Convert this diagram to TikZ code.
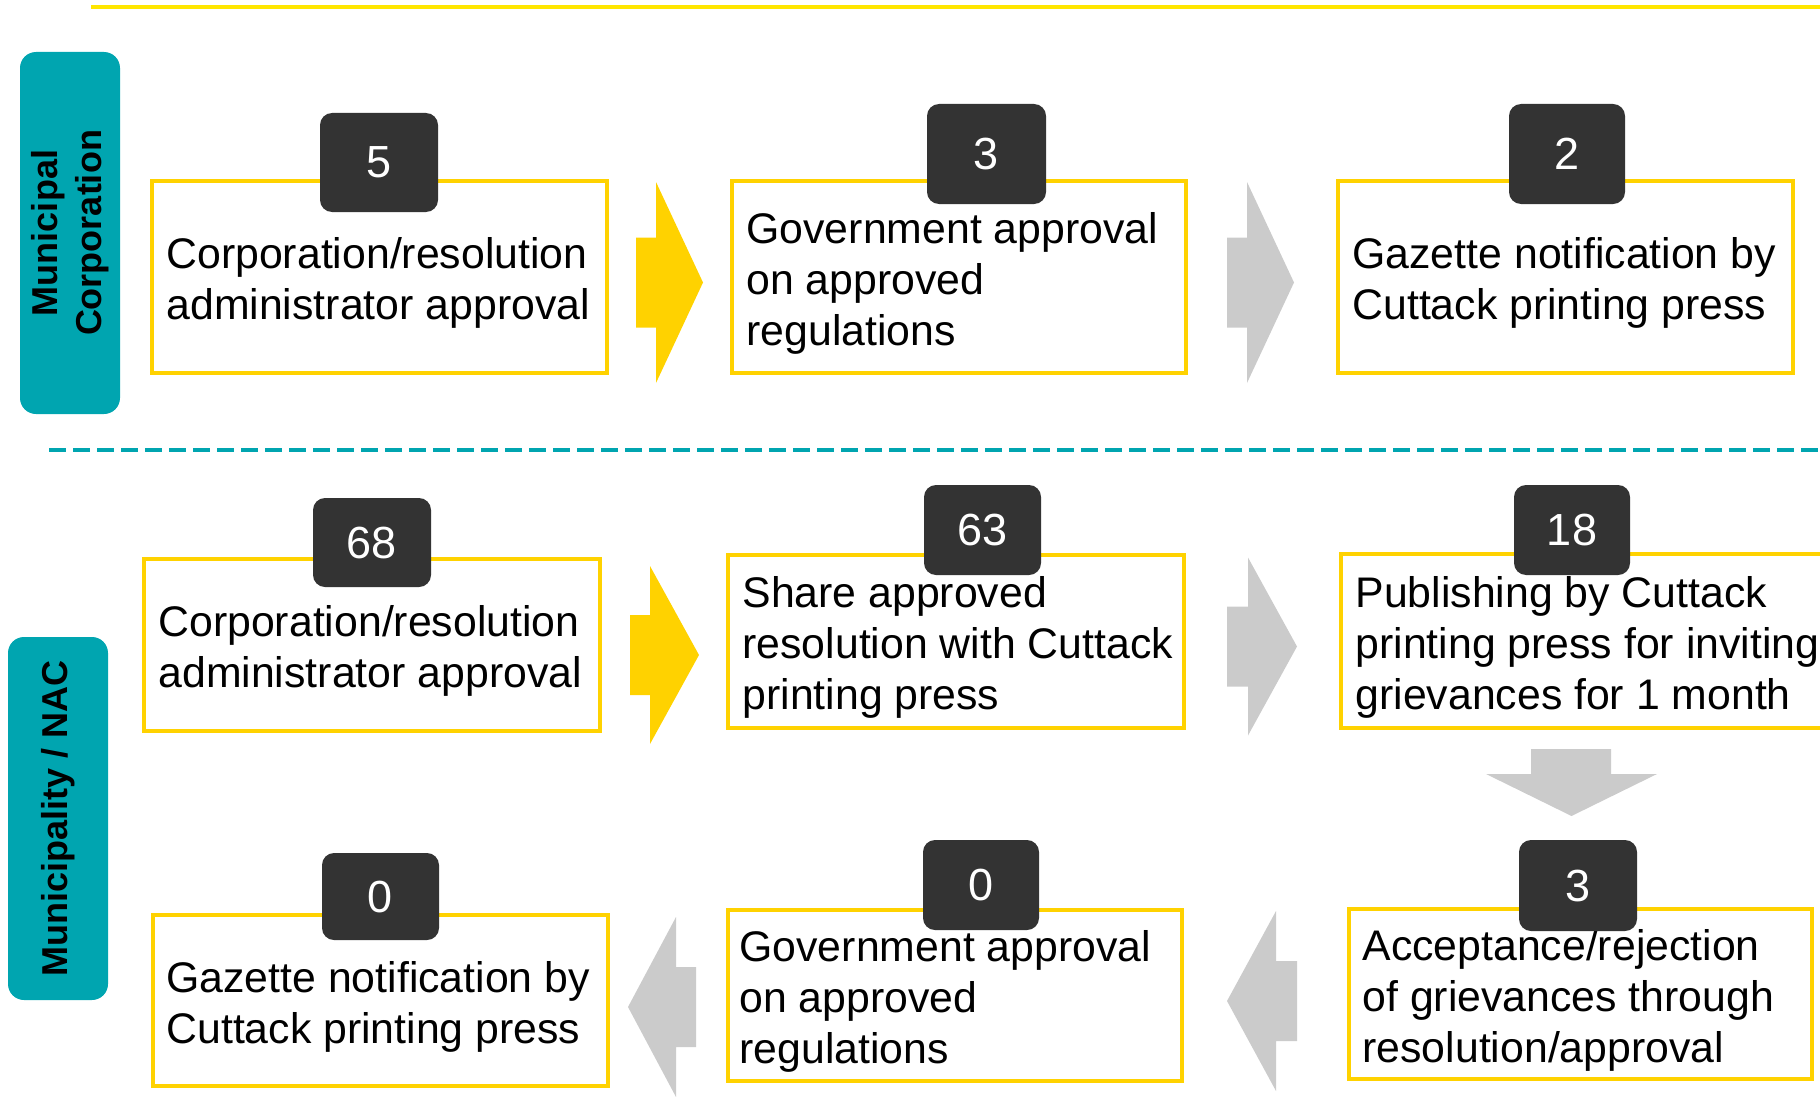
\documentclass[tikz,border=0pt]{standalone}
\usepackage{fontspec}
\setmainfont{Liberation Sans}
\definecolor{boxyellow}{HTML}{FFD200}
\definecolor{lineyellow}{HTML}{FFE600}
\definecolor{arrowyellow}{HTML}{FFD200}
\definecolor{arrowgray}{HTML}{CBCBCB}
\definecolor{badgegray}{HTML}{333333}
\definecolor{tealband}{HTML}{00A5B0}
\newcommand{\blockR}[7]{\fill[#7,shift={(#1,#2)}] (-#3/2,-#5/2) -- (#3/2-#4,-#5/2) -- (#3/2-#4,-#6/2) -- (#3/2,0) -- (#3/2-#4,#6/2) -- (#3/2-#4,#5/2) -- (-#3/2,#5/2) -- cycle;}
\newcommand{\blockL}[7]{\fill[#7,shift={(#1,#2)},xscale=-1] (-#3/2,-#5/2) -- (#3/2-#4,-#5/2) -- (#3/2-#4,-#6/2) -- (#3/2,0) -- (#3/2-#4,#6/2) -- (#3/2-#4,#5/2) -- (-#3/2,#5/2) -- cycle;}
\begin{document}
\begin{tikzpicture}[x=1pt,y=-1pt,
  stepbox/.style={draw=boxyellow, line width=3.5pt, fill=white, inner sep=0pt},
  steptext/.style={anchor=west, inner sep=0pt, align=left, font=\fontsize{42.8pt}{51pt}\selectfont},
  badge/.style={fill=badgegray, rounded corners=12pt, text=white, inner sep=0pt,
    font=\fontsize{45pt}{50pt}\selectfont},
  band/.style={fill=tealband, rounded corners=16pt, inner sep=0pt, rotate=90, align=center,
    font=\fontsize{36pt}{44pt}\selectfont\bfseries},
  topline/.style={draw=lineyellow, line width=3.5pt},
  divider/.style={draw=tealband, line width=4pt, dash pattern=on 17pt off 7pt}]
\useasboundingbox (0,0) rectangle (1820,1097);

% separators
\coordinate (tl1) at (91,7);
\coordinate (tl2) at (1820,7);
\draw[topline] (tl1) -- (tl2);
\coordinate (dv1) at (49,450);
\coordinate (dv2) at (1820,450);
\draw[divider] (dv1) -- (dv2);

% side bands
\node[band, minimum width=362pt, minimum height=100pt] (mc) at (70,233) {Municipal\\Corporation};
\node[band, minimum width=363pt, minimum height=100pt] (mn) at (58,818.5) {Municipality / NAC};

% arrows
\blockR{669.5}{282.5}{67}{47}{90}{201}{arrowyellow}
\blockR{1260.5}{282.5}{67}{47}{90}{201}{arrowgray}
\blockR{664.5}{655}{69}{49}{80}{178}{arrowyellow}
\blockR{1262}{646.5}{70}{49}{80}{178}{arrowgray}
\blockL{662}{1007}{68}{48}{80}{180}{arrowgray}
\blockL{1262}{1001}{70}{49}{80}{180}{arrowgray}
\fill[arrowgray] (1531,749) -- (1611,749) -- (1611,774) -- (1657,774) -- (1571.5,816) -- (1486,774) -- (1531,774) -- cycle;

% boxes
\node[stepbox, minimum width=455pt, minimum height=192pt] (b1) at (379.5,277) {};
\node[stepbox, minimum width=454pt, minimum height=192pt] (b2) at (959,277) {};
\node[stepbox, minimum width=455pt, minimum height=192pt] (b3) at (1565.5,277) {};
\node[stepbox, minimum width=456pt, minimum height=172pt] (b4) at (372,645) {};
\node[stepbox, minimum width=456pt, minimum height=173pt] (b5) at (956,641.5) {};
\node[stepbox, minimum width=499pt, minimum height=174pt] (b6) at (1590.5,641) {};
\node[stepbox, minimum width=455pt, minimum height=171pt] (b7) at (380.5,1000.5) {};
\node[stepbox, minimum width=454pt, minimum height=171pt] (b8) at (955,995.5) {};
\node[stepbox, minimum width=463pt, minimum height=170pt] (b9) at (1580.5,994) {};

% texts
\node[steptext] (t1) at ([shift={(16,6)}]b1.west) {Corporation/resolution\\administrator approval};
\node[steptext] (t2) at ([shift={(16,6)}]b2.west) {Government approval\\on approved\\regulations};
\node[steptext] (t3) at ([shift={(16,6)}]b3.west) {Gazette notification by\\Cuttack printing press};
\node[steptext] (t4) at ([shift={(16,6)}]b4.west) {Corporation/resolution\\administrator approval};
\node[steptext] (t5) at ([shift={(16,6)}]b5.west) {Share approved\\resolution with Cuttack\\printing press};
\node[steptext] (t6) at ([shift={(16,6)}]b6.west) {Publishing by Cuttack\\printing press for inviting\\grievances for 1 month};
\node[steptext] (t7) at ([shift={(15,6)}]b7.west) {Gazette notification by\\Cuttack printing press};
\node[steptext] (t8) at ([shift={(13,6)}]b8.west) {Government approval\\on approved\\regulations};
\node[steptext] (t9) at ([shift={(15,6)}]b9.west) {Acceptance/rejection\\of grievances through\\resolution/approval};

% badges
\node[badge, minimum width=118pt, minimum height=99pt, text depth=-2pt] (n1) at (379,162.5) {5};
\node[badge, minimum width=119pt, minimum height=100pt, text depth=-2pt] (n2) at (986.5,154) {3};
\node[badge, minimum width=116pt, minimum height=100pt, text depth=-2pt] (n3) at (1567,154) {2};
\node[badge, minimum width=118pt, minimum height=89pt, text depth=-2pt] (n4) at (372,542.5) {68};
\node[badge, minimum width=117pt, minimum height=90pt, text depth=-2pt] (n5) at (982.5,530) {63};
\node[badge, minimum width=116pt, minimum height=90pt, text depth=-2pt] (n6) at (1572,530) {18};
\node[badge, minimum width=117pt, minimum height=87pt, text depth=-2pt] (n7) at (380.5,896.5) {0};
\node[badge, minimum width=116pt, minimum height=90pt, text depth=-2pt] (n8) at (981,885) {0};
\node[badge, minimum width=118pt, minimum height=91pt, text depth=-2pt] (n9) at (1578,885.5) {3};
\end{tikzpicture}
\end{document}
